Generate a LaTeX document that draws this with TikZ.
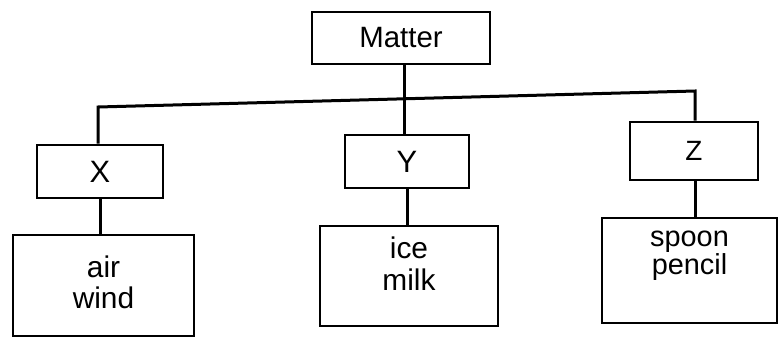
\documentclass[tikz,border=0pt]{standalone}
\usepackage{fontspec}
\setmainfont{Liberation Sans}
\usetikzlibrary{calc}
\begin{document}
\begin{tikzpicture}[x=1bp,y=-1bp,
  box/.style={draw=black,line width=2.8bp,rectangle,inner sep=0pt},
  lbl/.style={align=center,inner sep=0pt,font=\fontsize{30}{31}\selectfont},
  conn/.style={draw=black,line width=3bp}]
\useasboundingbox (0,0) rectangle (779,338);
% top
\node[box,minimum width=178bp,minimum height=52bp,font=\fontsize{29.5}{30}\selectfont] (matter) at (401,38) {Matter};
% second row
\node[box,minimum width=126bp,minimum height=53bp,font=\fontsize{31}{32}\selectfont] (X) at (100,171.5) {X};
\node[box,minimum width=124bp,minimum height=53bp,font=\fontsize{31}{32}\selectfont] (Y) at (407,161.5) {Y};
\node[box,minimum width=128bp,minimum height=58bp,font=\fontsize{28}{30}\selectfont] (Z) at (694,151) {Z};
% bottom boxes
\node[box,minimum width=181bp,minimum height=101bp] (air) at (103.5,285.5) {};
\node[box,minimum width=178bp,minimum height=100bp] (ice) at (409,276) {};
\node[box,minimum width=175bp,minimum height=105bp] (spoon) at (689.5,270.5) {};
\node[lbl] (airtxt) at (103.5,282) {air\\wind};
\node[lbl,font=\fontsize{30}{32}\selectfont] (icetxt) at (409,264) {ice\\milk};
\node[lbl,font=\fontsize{29}{28}\selectfont] (spoontxt) at (689.5,256) {spoon\\pencil};
% bus
\coordinate (busL) at (98,107);
\coordinate (busR) at (695,91);
\coordinate (mid) at ($(busL)!0.514!(busR)$);
\draw[conn] (busL |- X.north) -- (busL) -- (busR) -- (busR |- Z.north);
\draw[conn] (mid |- matter.south) -- (mid |- Y.north);
\draw[conn] (X.south) -- (X.south |- air.north);
\draw[conn] (Y.south) -- (Y.south |- ice.north);
\draw[conn] (busR |- Z.south) -- (busR |- spoon.north);
\end{tikzpicture}
\end{document}
